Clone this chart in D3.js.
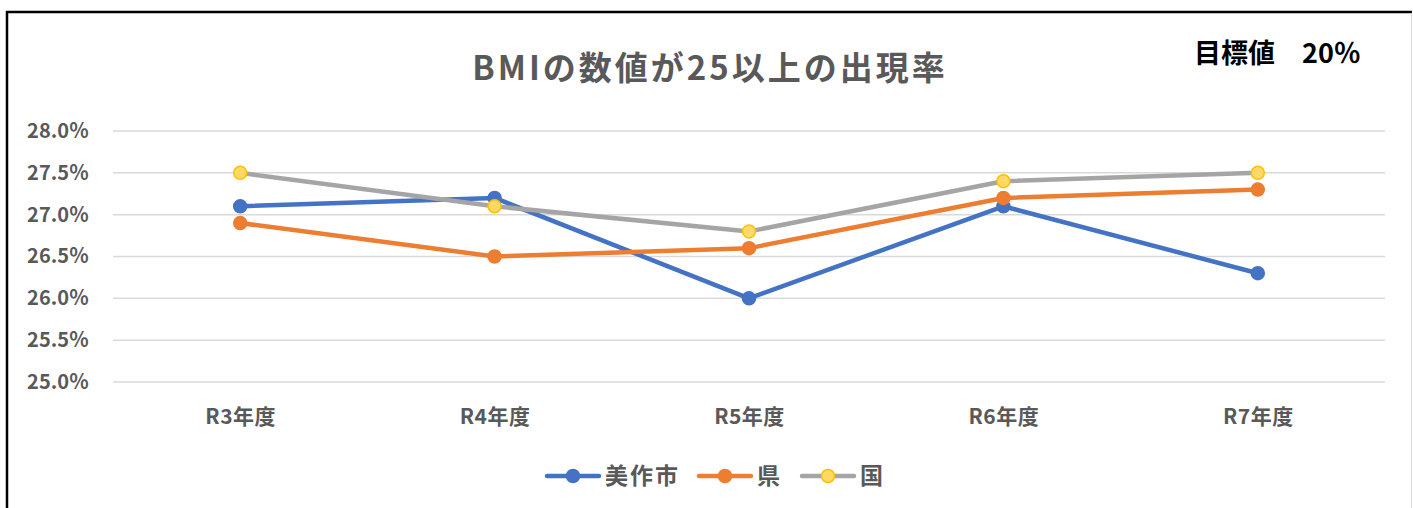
<!DOCTYPE html>
<html>
<head>
<meta charset="utf-8">
<script src="https://cdn.jsdelivr.net/npm/d3@7"></script>
<style>
  body { margin: 0; background: #fff; }
  text { font-family: "Noto Sans CJK JP", "Noto Sans", sans-serif; }
</style>
</head>
<body>
<div id="chart"></div>
<script>
// data
var categories = ["R3年度", "R4年度", "R5年度", "R6年度", "R7年度"];
var seriesNames = ["美作市", "県", "国"];
var mimasakaValues = [27.1, 27.2, 26.0, 27.1, 26.3];
var prefValues = [26.9, 26.5, 26.6, 27.2, 27.3];
var nationValues = [27.5, 27.1, 26.8, 27.4, 27.5];
var yTicks = [25.0, 25.5, 26.0, 26.5, 27.0, 27.5, 28.0];

var svgWidth = 1413;
var svgHeight = 508;

var margin = { top: 131, right: 28, bottom: 126, left: 113 };
var width = svgWidth - margin.left - margin.right;
var height = svgHeight - margin.top - margin.bottom;

var svg = d3.select("#chart")
  .append("svg")
  .attr("width", svgWidth)
  .attr("height", svgHeight);

// frame
svg.append("line").attr("x1", 7).attr("x2", 7).attr("y1", 11).attr("y2", svgHeight)
  .attr("stroke", "#000").attr("stroke-width", 2.5);
svg.append("line").attr("x1", 6).attr("x2", 1412).attr("y1", 12).attr("y2", 12)
  .attr("stroke", "#000").attr("stroke-width", 2.5);
svg.append("line").attr("x1", 1411.5).attr("x2", 1411.5).attr("y1", 13).attr("y2", svgHeight)
  .attr("stroke", "#d9d9d9").attr("stroke-width", 1);

var chartGroup = svg.append("g")
  .attr("transform", `translate(${margin.left}, ${margin.top})`);

var xScale = d3.scalePoint()
  .domain(categories)
  .range([0, width])
  .padding(0.5);

var yScale = d3.scaleLinear()
  .domain([25, 28])
  .range([height, 0]);

// gridlines
chartGroup.selectAll(".grid")
  .data(yTicks)
  .enter()
  .append("line")
  .attr("x1", 0)
  .attr("x2", width)
  .attr("y1", d => yScale(d))
  .attr("y2", d => yScale(d))
  .attr("stroke", "#d9d9d9")
  .attr("stroke-width", 1.5);

// y labels
var leftAxis = d3.axisLeft(yScale)
  .tickValues(yTicks)
  .tickSize(0)
  .tickPadding(24)
  .tickFormat(d => d3.format(".1f")(d) + "％");
var yAxis = chartGroup.append("g").call(leftAxis);
yAxis.select(".domain").remove();
yAxis.selectAll("text")
  .attr("font-size", "20px")
  .attr("font-weight", "bold")
  .attr("fill", "#595959")
  .style("font-family", "'Noto Sans CJK JP', sans-serif");

// x labels
var bottomAxis = d3.axisBottom(xScale).tickSize(0).tickPadding(27);
var xAxis = chartGroup.append("g")
  .attr("transform", `translate(0, ${height})`)
  .call(bottomAxis);
xAxis.select(".domain").remove();
xAxis.selectAll("text")
  .attr("font-size", "21px")
  .attr("font-weight", "bold")
  .attr("fill", "#595959")
  .attr("letter-spacing", "0.5px")
  .style("font-family", "'Noto Sans CJK JP', sans-serif");

var series = [
  { name: seriesNames[0], values: mimasakaValues, color: "#4472C4", fill: "#4472C4", stroke: "#4472C4" },
  { name: seriesNames[1], values: prefValues, color: "#ED7D31", fill: "#ED7D31", stroke: "#ED7D31" },
  { name: seriesNames[2], values: nationValues, color: "#A5A5A5", fill: "#FFD966", stroke: "#FFC000" }
];

var line = d3.line()
  .x((d, i) => xScale(categories[i]))
  .y(d => yScale(d));

series.forEach(function(s) {
  chartGroup.append("path")
    .datum(s.values)
    .attr("d", line)
    .attr("fill", "none")
    .attr("stroke", s.color)
    .attr("stroke-width", 4.5)
    .attr("stroke-linejoin", "round")
    .attr("stroke-linecap", "round");

  chartGroup.selectAll(null)
    .data(s.values)
    .enter()
    .append("circle")
    .attr("cx", (d, i) => xScale(categories[i]))
    .attr("cy", d => yScale(d))
    .attr("r", 6.5)
    .attr("fill", s.fill)
    .attr("stroke", s.stroke)
    .attr("stroke-width", 1.5);
});

// title
svg.append("text")
  .attr("x", 710)
  .attr("y", 80)
  .attr("text-anchor", "middle")
  .attr("font-size", "33px")
  .attr("font-weight", "bold")
  .attr("letter-spacing", "3px")
  .attr("fill", "#595959")
  .text("BMIの数値が25以上の出現率");

svg.append("text")
  .attr("x", 1194)
  .attr("y", 63)
  .attr("font-size", "27px")
  .attr("font-weight", "bold")
  .attr("fill", "#000")
  .attr("xml:space", "preserve")
  .text("目標値　20％");

// legend
var legendX = [545, 697, 800];
var legend = svg.append("g").attr("transform", "translate(0, 476)");
series.forEach(function(s, i) {
  var g = legend.append("g").attr("transform", `translate(${legendX[i]}, 0)`);
  g.append("line")
    .attr("x1", 2).attr("x2", 54).attr("y1", 0).attr("y2", 0)
    .attr("stroke", s.color).attr("stroke-width", 4.5).attr("stroke-linecap", "round");
  g.append("circle")
    .attr("cx", 28).attr("cy", 0).attr("r", 6.5)
    .attr("fill", s.fill).attr("stroke", s.stroke).attr("stroke-width", 1.5);
  g.append("text")
    .attr("x", 60).attr("y", 0).attr("dy", "0.35em")
    .attr("font-size", "23px")
    .attr("font-weight", "bold")
    .attr("letter-spacing", "2px")
    .attr("fill", "#595959")
    .text(s.name);
});
</script>
</body>
</html>
